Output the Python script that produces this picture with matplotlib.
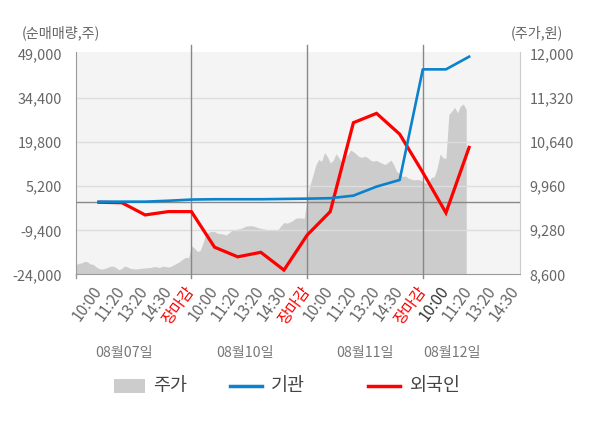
import numpy as np
import matplotlib
matplotlib.use('Agg')
import matplotlib.pyplot as plt
from matplotlib.patches import Rectangle
from matplotlib.lines import Line2D

plt.rcParams['font.family'] = ['Noto Sans CJK KR', 'DejaVu Sans']

# ---------------- data ----------------
price_day1 = [8745, 8770, 8775, 8800, 8795, 8760, 8755, 8715, 8690, 8680,
              8690, 8705, 8725, 8725, 8700, 8670, 8695, 8728, 8710, 8690,
              8685, 8682, 8690, 8693, 8698, 8702, 8706, 8720, 8715, 8705,
              8725, 8720, 8712, 8725, 8750, 8772, 8800, 8835, 8862, 8856]
price_day2 = [9040, 9005, 8955, 8965, 9080, 9230, 9250, 9265, 9260, 9235,
              9228, 9222, 9207, 9240, 9280, 9290, 9300, 9308, 9325, 9346,
              9350, 9350, 9338, 9320, 9310, 9302, 9290, 9290, 9292, 9288,
              9295, 9350, 9400, 9390, 9408, 9430, 9465, 9472, 9470, 9465]
price_day3 = [9760, 9980, 10130, 10290, 10375, 10345, 10480, 10420, 10320, 10360,
              10460, 10400, 10330, 10450, 10440, 10520, 10494, 10455, 10417, 10408,
              10425, 10400, 10360, 10350, 10360, 10335, 10315, 10295, 10330, 10365,
              10290, 10185, 10160, 10110, 10119, 10085, 10070, 10058, 10065, 10060]
price_day4 = [10030, 10006, 10030, 10100, 10108, 10250, 10460, 10400, 10390, 11070,
              11120, 11180, 11095, 11200, 11231, 11150]
samples_per_day = 40

inst_net = [100, 100, 100, 400, 800, 900, 900, 900, 1000, 1100,
            1250, 2100, 5100, 7300, 44000, 44000, 48200]          # 기관
foreign_net = [-100, -250, -4300, -3200, -3200, -15000, -18200, -16700, -22600, -11000,
               -3200, 26300, 29400, 22500, 9800, -3600, 18100]    # 외국인

time_labels = ['10:00', '11:20', '13:20', '14:30', '장마감']
date_labels = ['08월07일', '08월10일', '08월11일', '08월12일']
left_ticks = [-24000, -9400, 5200, 19800, 34400, 49000]
right_ticks = [8600, 9280, 9960, 10640, 11320, 12000]

# ---------------- layout ----------------
W, H = 600, 428
fig = plt.figure(figsize=(W / 100, H / 100), dpi=100)
fig.patch.set_facecolor('white')

ax_p = fig.add_axes([75.7 / W, 1 - 274.3 / H, (520 - 75.7) / W, (274.3 - 52) / H])
ax_p.set_facecolor('#f4f4f4')
ax_f = ax_p.twinx()

slots_per_day = len(time_labels)
days = [price_day1, price_day2, price_day3, price_day4]
px, py = [], []
for d, arr in enumerate(days):
    px.extend(d * slots_per_day + np.arange(len(arr)) * slots_per_day / samples_per_day)
    py.extend(arr)
px = np.array(px)
py = np.array(py)

ax_p.fill_between(px, right_ticks[0], py, color='#cccccc', lw=0, zorder=1)
ax_p.set_xlim(0, 19.2)
ax_p.set_ylim(8600, 12035)
ax_f.set_ylim(-24000, 49760)

# grid lines
for v in right_ticks[1:-1]:
    ax_p.axhline(v, color='#dddddd', lw=1, zorder=2)

# day separators
sep_tr = ax_p.get_xaxis_transform()
for d in range(len(days)):
    x = d * slots_per_day
    if d == 0:
        ax_p.plot([x, x], [-0.018, 0], transform=sep_tr, color='#999999', lw=1,
                  clip_on=False, zorder=3)
    else:
        ax_p.plot([x, x], [-0.018, 1.031], transform=sep_tr, color='#888888', lw=1,
                  clip_on=False, zorder=3)

# lines
xl = np.arange(1, len(inst_net) + 1)
ax_f.axhline(0, color='#888888', lw=1, zorder=1)
ax_f.plot(xl, foreign_net, color='#ff0000', lw=2.3, zorder=2, solid_joinstyle='miter')
ax_f.plot(xl, inst_net, color='#0a82cc', lw=1.9, zorder=3)

# spines
for s in ax_f.spines.values():
    s.set_visible(False)
ax_p.spines['top'].set_visible(False)
ax_p.spines['left'].set_color('#999999')
ax_p.spines['bottom'].set_color('#999999')
ax_p.spines['right'].set_color('#cccccc')

# y ticks
ax_p.yaxis.tick_right()
ax_p.set_yticks(right_ticks)
ax_p.set_yticklabels([f'{v:,}' for v in right_ticks])
ax_p.tick_params(axis='y', length=0, pad=7, labelsize=10.4, labelcolor='#666666')

ax_f.yaxis.tick_left()
ax_f.set_yticks(left_ticks)
ax_f.set_yticklabels([f'{v:,}' for v in left_ticks])
ax_f.tick_params(axis='y', length=0, pad=10, labelsize=10.4, labelcolor='#666666')

# x ticks
xt, xlab = [], []
for d in range(len(days)):
    n = slots_per_day if d < len(days) - 1 else slots_per_day - 1
    for i in range(n):
        xt.append(d * slots_per_day + i + 1)
        xlab.append(time_labels[i])
ax_p.set_xticks(xt)
ax_p.set_xticklabels(xlab)
ax_p.tick_params(axis='x', length=0, pad=10, labelsize=11.2, labelcolor='#666666')
for k, t in enumerate(ax_p.get_xticklabels()):
    t.set_rotation(54)
    t.set_rotation_mode('anchor')
    t.set_ha('right')
    t.set_va('center')
    if t.get_text() == '장마감':
        t.set_color('#ff0000')
    if k == 15:
        t.set_color('#333333')

# date labels
date_x = [2.1, 7.32, 12.5, 16.25]
for xd, lab in zip(date_x, date_labels):
    ax_p.text(xd, -0.355, lab, transform=sep_tr, ha='center', va='center',
              fontsize=10.2, color='#777777')

# axis titles
fig.text(22 / W, 1 - 33 / H, '(순매매량,주)', ha='left', va='center', fontsize=10.2, color='#666666')
fig.text(563 / W, 1 - 33 / H, '(주가,원)', ha='right', va='center', fontsize=10.2, color='#666666')

# legend
ly = 1 - 385.7 / H
fig.add_artist(Rectangle((114 / W, 1 - 392.7 / H), 31 / W, 13.7 / H,
                         transform=fig.transFigure, facecolor='#cccccc', edgecolor='none'))
fig.text(153 / W, ly, '주가', ha='left', va='center', fontsize=13.3, color='#444444')
fig.add_artist(Line2D([230 / W, 262 / W], [ly, ly], transform=fig.transFigure,
                      color='#0a82cc', lw=2.5))
fig.text(271 / W, ly, '기관', ha='left', va='center', fontsize=13.3, color='#444444')
fig.add_artist(Line2D([368 / W, 400 / W], [ly, ly], transform=fig.transFigure,
                      color='#ff0000', lw=2.5))
fig.text(410 / W, ly, '외국인', ha='left', va='center', fontsize=13.3, color='#444444')

fig.savefig('out.png', dpi=100, facecolor='white')
